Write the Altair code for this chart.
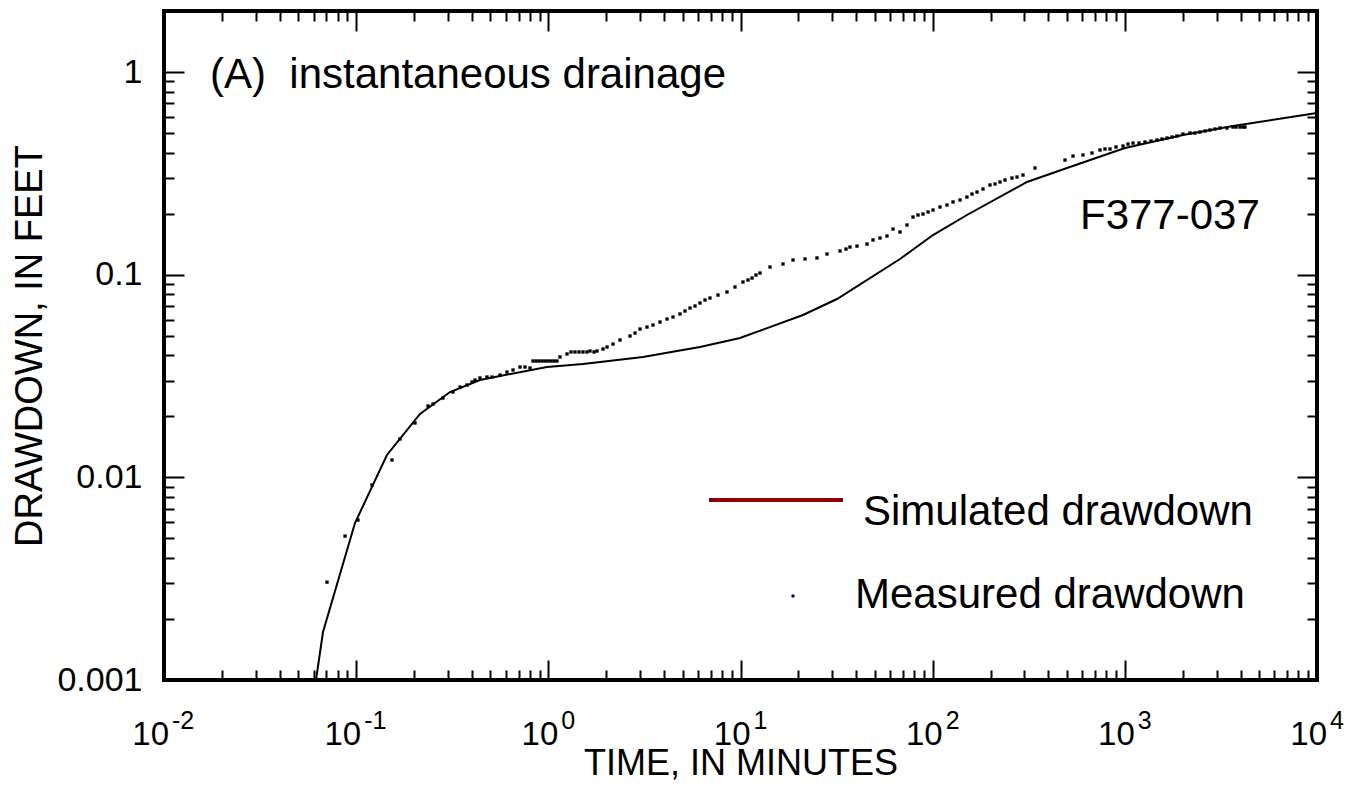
import altair as alt
import pandas as pd

# ---------------- data ----------------
sim_t = [0.0618, 0.0672, 0.0986, 0.1446, 0.2149, 0.3078, 0.4409, 0.5605, 0.984, 1.515,
         3.109, 4.673, 6.155, 9.94, 21.14, 31.78, 67.6, 100.4, 150.8, 309.7,
         500.0, 1002.0, 2007.0, 3654.0, 10000.0]
sim_s = [0.001, 0.001725, 0.005951, 0.01289, 0.02054, 0.02636, 0.03021, 0.03162, 0.03502, 0.03624,
         0.03925, 0.04201, 0.04396, 0.04869, 0.06324, 0.07584, 0.1195, 0.1569, 0.197, 0.2867,
         0.336, 0.4217, 0.4887, 0.5416, 0.6276]

meas_t = [0.0705, 0.0875, 0.1022, 0.1209, 0.1536, 0.169, 0.2024, 0.2365, 0.2511, 0.283,
          0.3191, 0.347, 0.3773, 0.4006, 0.4153, 0.4409, 0.4796, 0.5089, 0.5605, 0.6093,
          0.6548, 0.712, 0.7562, 0.8027, 0.8628, 0.9268, 0.9959, 1.07, 1.15, 1.251,
          1.376, 1.515, 1.648, 1.792, 1.925, 2.02, 2.17, 2.36, 2.66, 2.825,
          3.0, 3.262, 3.504, 3.812, 4.146, 4.455, 4.843, 5.143, 5.46, 5.799,
          6.155, 6.536, 6.937, 7.636, 8.505, 9.361, 10.3, 10.94, 11.48, 12.04,
          12.63, 14.24, 16.64, 18.76, 21.66, 25.0, 28.19, 32.95, 35.4, 37.13,
          40.38, 45.52, 48.92, 53.2, 57.84, 62.17, 67.6, 73.5, 79.0, 83.9,
          89.04, 94.6, 100.4, 109.2, 118.7, 127.6, 138.8, 150.8, 160.2, 170.1,
          182.8, 198.7, 211.1, 224.0, 237.9, 258.7, 274.7, 295.1, 340.8, 488.2,
          537.4, 605.7, 674.8, 742.5, 788.3, 837.2, 899.5, 978.1, 1038.5, 1103.0,
          1185.0, 1273.0, 1368.0, 1470.0, 1561.0, 1658.0, 1760.0, 1868.0, 2007.0, 2183.0,
          2318.0, 2461.0, 2613.0, 2775.0, 2945.0, 3128.0, 3401.0, 3654.0, 3788.0, 3975.0,
          4120.0, 4220.0,
          0.832, 0.894, 0.961, 1.032, 1.109, 1.312, 1.444, 1.589, 1.729]
meas_s = [0.00304, 0.00513, 0.00616, 0.00917, 0.01218, 0.01546, 0.01854, 0.02249, 0.023, 0.02462,
          0.02636, 0.0279, 0.02855, 0.02954, 0.0302, 0.03092, 0.03126, 0.03126, 0.03198, 0.03309,
          0.03385, 0.03502, 0.03502, 0.03463, 0.0375, 0.0375, 0.0375, 0.0375, 0.03925, 0.04061,
          0.04155, 0.04155, 0.04201, 0.04201, 0.04298, 0.04396, 0.04548, 0.04761, 0.04981, 0.05153,
          0.05393, 0.05516, 0.05644, 0.05839, 0.06042, 0.06181, 0.06396, 0.06618, 0.06847, 0.07005,
          0.07248, 0.07499, 0.07669, 0.07935, 0.08211, 0.08694, 0.09199, 0.09412, 0.09627, 0.0996,
          0.1019, 0.1091, 0.1129, 0.1181, 0.1195, 0.1209, 0.1265, 0.1309, 0.1338, 0.1369,
          0.1384, 0.1416, 0.1483, 0.1517, 0.1552, 0.168, 0.1624, 0.1758, 0.1925, 0.197,
          0.1992, 0.2038, 0.2085, 0.2157, 0.2207, 0.2284, 0.2336, 0.2416, 0.25, 0.2557,
          0.2647, 0.277, 0.2802, 0.2867, 0.2932, 0.2999, 0.3033, 0.3102, 0.336, 0.3678,
          0.3849, 0.3894, 0.3984, 0.4122, 0.4169, 0.4169, 0.4265, 0.4313, 0.4411, 0.4462,
          0.4462, 0.4514, 0.4565, 0.4617, 0.4669, 0.4723, 0.4777, 0.4832, 0.4943, 0.5,
          0.5, 0.5057, 0.5115, 0.5173, 0.5232, 0.5292, 0.5292, 0.5352, 0.5352, 0.5352,
          0.5352, 0.5352,
          0.0375, 0.0375, 0.0375, 0.0375, 0.0375, 0.04155, 0.04155, 0.04155, 0.04155]

x_exponents = [-2, -1, 0, 1, 2, 3, 4]
y_major = [0.001, 0.01, 0.1, 1]
panel_label = "(A)\u00a0 instantaneous drainage"
well_label = "F377-037"
legend_labels = ["Simulated drawdown", "Measured drawdown"]
x_title = "TIME, IN MINUTES"
y_title = "DRAWDOWN, IN FEET"

x_major = [10.0 ** e for e in x_exponents]
x_minor = [m * 10.0 ** e for e in x_exponents[:-1] for m in range(2, 10)]
y_minor = [m * 10.0 ** e for e in [-3, -2, -1] for m in range(2, 10)]

W, H = 1153, 669
FONT = "Liberation Sans"

sim_df = pd.DataFrame({"t": sim_t, "s": sim_s})
meas_df = pd.DataFrame({"t": meas_t, "s": meas_s})

xs = alt.Scale(type="log", domain=[0.01, 10000], nice=False)
ys = alt.Scale(type="log", domain=[0.001, 2.0], nice=False)


def ax(orient, values, size, labels=False, **kw):
    return alt.Axis(orient=orient, values=values, tickSize=size, offset=-size,
                    tickWidth=2, tickColor="black", domain=False, grid=False,
                    labels=labels, **kw)


# simulated line with bottom/left major axes (labels + titles)
sim = alt.Chart(sim_df).mark_line(color="black", strokeWidth=2).encode(
    x=alt.X("t:Q", scale=xs,
            axis=ax("bottom", x_major, 20, title=x_title, titleFont=FONT,
                    titleFontSize=36, titleFontWeight="normal", titleColor="black",
                    titleBaseline="alphabetic", titleY=114)),
    y=alt.Y("s:Q", scale=ys,
            axis=ax("left", y_major, 20, labels=True, format="~g", labelFont=FONT,
                    labelFontSize=34, labelColor="black", labelPadding=22,
                    labelBaseline="middle",
                    title=y_title, titleFont=FONT, titleFontSize=38,
                    titleFontWeight="normal", titleColor="black",
                    titleBaseline="alphabetic", titleAngle=-90, titleX=-143)),
)

# measured points with bottom/left minor axes
meas = alt.Chart(meas_df).mark_square(color="black", size=11, opacity=1).encode(
    x=alt.X("t:Q", scale=xs, axis=ax("bottom", x_minor, 10, title=None)),
    y=alt.Y("s:Q", scale=ys, axis=ax("left", y_minor, 10, title=None)),
)

# invisible layers carrying top/right ticks
top_major = alt.Chart(sim_df).mark_line(strokeOpacity=0).encode(
    x=alt.X("t:Q", scale=xs, axis=ax("top", x_major, 20, title=None)),
    y=alt.Y("s:Q", scale=ys, axis=ax("right", y_major, 20, title=None)),
)
top_minor = alt.Chart(sim_df).mark_line(strokeOpacity=0).encode(
    x=alt.X("t:Q", scale=xs, axis=ax("top", x_minor, 10, title=None)),
    y=alt.Y("s:Q", scale=ys, axis=ax("right", y_minor, 10, title=None)),
)

# x tick labels as 10 with superscript exponent
lab_df = pd.DataFrame({"t": x_major, "base": ["10"] * len(x_exponents),
                       "sup": [str(e) for e in x_exponents],
                       "neg": [e < 0 for e in x_exponents]})
neg_df = lab_df[lab_df["neg"]]
pos_df = lab_df[~lab_df["neg"]]


def base_text(df, dx):
    return alt.Chart(df).mark_text(align="right", baseline="alphabetic", dx=dx,
                                   font=FONT, fontSize=33, color="black").encode(
        x=alt.X("t:Q", scale=xs, axis=None), y=alt.value(H + 65), text="base:N")


def sup_text(df, dx):
    return alt.Chart(df).mark_text(align="left", baseline="alphabetic", dx=dx,
                                   font=FONT, fontSize=25, color="black").encode(
        x=alt.X("t:Q", scale=xs, axis=None), y=alt.value(H + 49), text="sup:N")


xlabels = [base_text(neg_df, 5), sup_text(neg_df, 8), base_text(pos_df, 10), sup_text(pos_df, 13)]

one = pd.DataFrame({"k": [0]})


def note(text, x, y, size):
    return alt.Chart(one).mark_text(align="left", baseline="alphabetic", font=FONT,
                                    fontSize=size, color="black", text=text).encode(
        x=alt.value(x), y=alt.value(y))


panel = note(panel_label, 46, 77, 42)
well = note(well_label, 916, 218, 42)

leg_line = alt.Chart(one).mark_rule(color="#8b0000", strokeWidth=4).encode(
    x=alt.value(545), x2=alt.value(679), y=alt.value(489))
leg_dot = alt.Chart(one).mark_circle(color="#000080", size=12, opacity=1).encode(
    x=alt.value(629), y=alt.value(585))
leg1 = note(legend_labels[0], 699, 514, 42)
leg2 = note(legend_labels[1], 691, 597, 42)

chart = alt.layer(
    top_major, top_minor, meas, sim, *xlabels, panel, well, leg_line, leg_dot, leg1, leg2
).resolve_axis(x="independent", y="independent").properties(
    width=W, height=H,
    autosize=alt.AutoSizeParams(type="none"),
    padding={"left": 156, "top": 3, "right": 30, "bottom": 100},
    background="white",
).configure_view(stroke="black", strokeWidth=4)

chart.save("out.html", embed_options={"renderer": "svg", "actions": False})
